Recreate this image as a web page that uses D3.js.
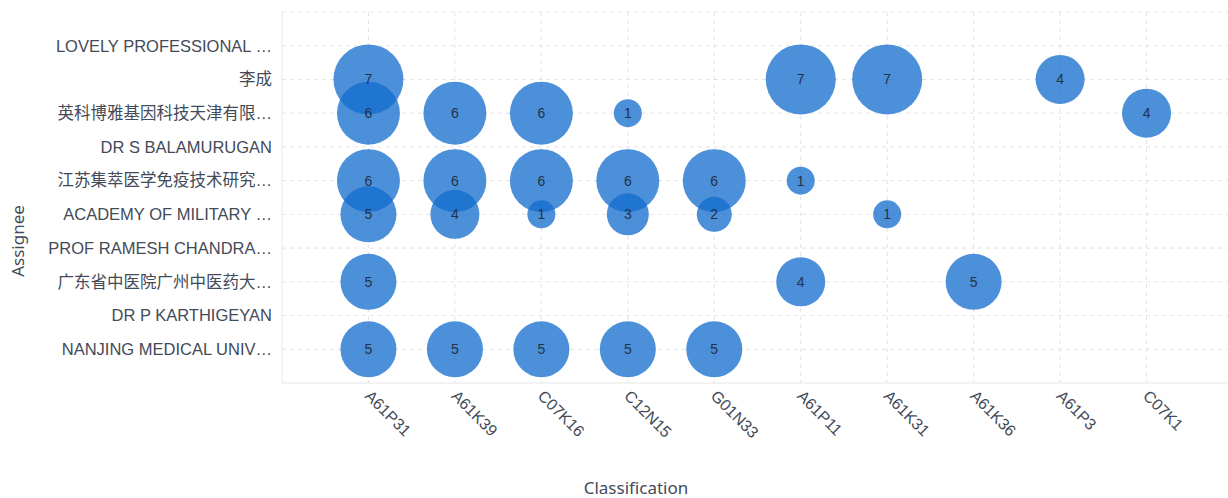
<!DOCTYPE html>
<html>
<head>
<meta charset="utf-8">
<script src="https://cdn.jsdelivr.net/npm/d3@7"></script>
<style>
  body { margin: 0; background: #fff; }
  svg { display: block; }
</style>
</head>
<body>
<div id="container"></div>
<script>
/* DATA */
const assignees = [
  "LOVELY PROFESSIONAL …",
  "李成",
  "英科博雅基因科技天津有限…",
  "DR S BALAMURUGAN",
  "江苏集萃医学免疫技术研究…",
  "ACADEMY OF MILITARY …",
  "PROF RAMESH CHANDRA…",
  "广东省中医院广州中医药大…",
  "DR P KARTHIGEYAN",
  "NANJING MEDICAL UNIV…"
];

const classifications = ["A61P31", "A61K39", "C07K16", "C12N15", "G01N33", "A61P11", "A61K31", "A61K36", "A61P3", "C07K1"];

// one row per assignee, one column per classification (null = no patents)
const counts = [
  [null, null, null, null, null, null, null, null, null, null],
  [7, null, null, null, null, 7, 7, null, 4, null],
  [6, 6, 6, 1, null, null, null, null, null, 4],
  [null, null, null, null, null, null, null, null, null, null],
  [6, 6, 6, 6, 6, 1, null, null, null, null],
  [5, 4, 1, 3, 2, null, 1, null, null, null],
  [null, null, null, null, null, null, null, null, null, null],
  [5, null, null, null, null, 4, null, 5, null, null],
  [null, null, null, null, null, null, null, null, null, null],
  [5, 5, 5, 5, 5, null, null, null, null, null]
];

/* CONSTANTS */
const width = 1228;
const height = 498;
const plot = { left: 282, right: 1233, top: 12, bottom: 383 };
const tickFont = "Arial, 'Liberation Sans', 'Noto Sans CJK SC', sans-serif";
const titleFont = "'Noto Sans', 'Open Sans', sans-serif";

const points = [];
counts.forEach((row, i) => row.forEach((v, j) => {
  if (v != null) points.push({ assignee: assignees[i], cls: classifications[j], value: v });
}));

/* SCALES */
const x = d3.scalePoint()
  .domain(classifications)
  .range([plot.left, plot.right])
  .padding(1);

const y = d3.scalePoint()
  .domain(assignees)
  .range([plot.top, plot.bottom])
  .padding(1);

const r = d3.scaleLinear()
  .domain([1, 7])
  .range([14, 35]);

/* SVG */
const svg = d3.select("#container")
  .append("svg")
  .attr("width", width)
  .attr("height", height);

// grid lines
svg.append("g")
  .selectAll("line")
  .data([plot.top].concat(assignees.map(d => y(d))))
  .join("line")
  .attr("x1", plot.left)
  .attr("x2", width)
  .attr("y1", d => d)
  .attr("y2", d => d)
  .attr("stroke", "#e3e3e3")
  .attr("stroke-dasharray", "4,4");

svg.append("g")
  .selectAll("line")
  .data(classifications)
  .join("line")
  .attr("x1", d => x(d))
  .attr("x2", d => x(d))
  .attr("y1", plot.top)
  .attr("y2", plot.bottom)
  .attr("stroke", "#e3e3e3")
  .attr("stroke-dasharray", "4,4");

// axes
const yAxis = svg.append("g")
  .attr("transform", `translate(${plot.left},0)`)
  .call(d3.axisLeft(y).tickSize(0).tickPadding(10));

yAxis.select(".domain").attr("stroke", "#e6e6e6").attr("d", `M0,${plot.top}V${plot.bottom}`);
yAxis.selectAll("text")
  .attr("fill", "#434a58")
  .style("font-family", tickFont)
  .style("font-size", "16.5px");

const xAxis = svg.append("g")
  .attr("transform", `translate(0,${plot.bottom})`)
  .call(d3.axisBottom(x).tickSize(0).tickPadding(0));

xAxis.select(".domain").attr("stroke", "#e6e6e6").attr("d", `M${plot.left},0H${width}`);
xAxis.selectAll("text")
  .attr("fill", "#434a58")
  .attr("text-anchor", "start")
  .attr("dy", 0)
  .attr("transform", "translate(-5,14) rotate(45)")
  .style("font-family", tickFont)
  .style("font-size", "16px");

// bubbles
svg.append("g")
  .selectAll("circle")
  .data(points)
  .join("circle")
  .attr("cx", d => x(d.cls))
  .attr("cy", d => y(d.assignee))
  .attr("r", d => r(d.value))
  .attr("fill", "#126dcd")
  .attr("fill-opacity", 0.76);

svg.append("g")
  .selectAll("text")
  .data(points)
  .join("text")
  .attr("x", d => x(d.cls))
  .attr("y", d => y(d.assignee))
  .attr("dy", "0.35em")
  .attr("text-anchor", "middle")
  .attr("fill", "#243247")
  .style("font-family", tickFont)
  .style("font-size", "14px")
  .text(d => d.value);

// axis titles
svg.append("text")
  .attr("transform", "translate(24,241) rotate(-90)")
  .attr("text-anchor", "middle")
  .attr("fill", "#434a58")
  .style("font-family", titleFont)
  .style("font-size", "17px")
  .text("Assignee");

svg.append("text")
  .attr("x", 636)
  .attr("y", 494)
  .attr("text-anchor", "middle")
  .attr("fill", "#434a58")
  .style("font-family", titleFont)
  .style("font-size", "17px")
  .text("Classification");
</script>
</body>
</html>
